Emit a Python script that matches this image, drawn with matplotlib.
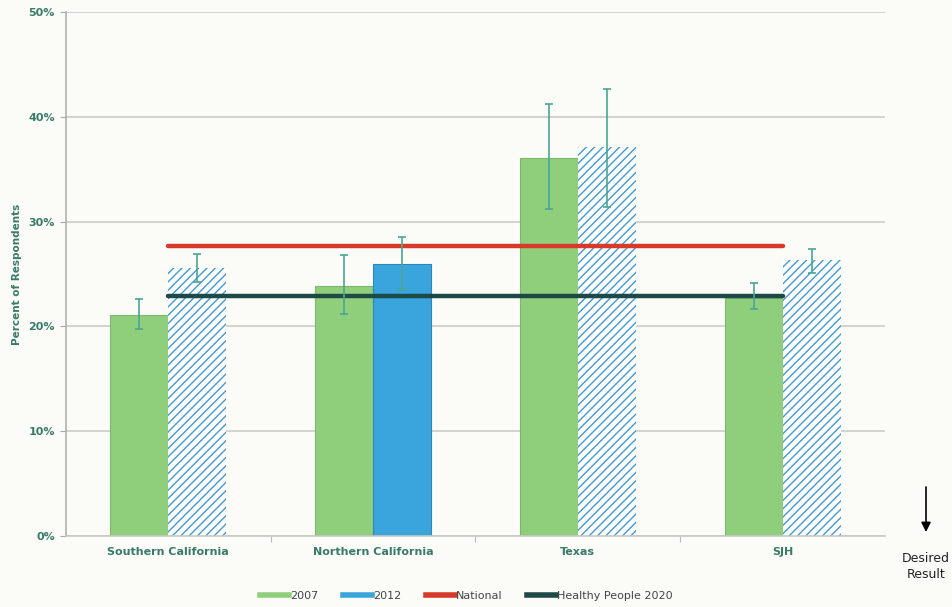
import numpy as np
import matplotlib.pyplot as plt
from matplotlib.lines import Line2D

regions = ["Southern California", "Northern California", "Texas", "SJH"]
y2007 = [21.1, 23.9, 36.1, 22.7]
y2007_lo = [19.8, 21.2, 31.2, 21.7]
y2007_hi = [22.6, 26.8, 41.2, 24.1]
y2012 = [25.6, 26.0, 37.1, 26.3]
y2012_lo = [24.2, 23.6, 31.4, 25.1]
y2012_hi = [26.9, 28.5, 42.7, 27.4]
hatched_2012 = [True, False, True, True]
national = 27.7
healthy_people = 22.9

bg = "#fbfbf8"
tick_col = "#3a7a68"
green = "#8fcf7c"
blue = "#3aa5dc"
hatch_blue = "#4598d0"
err_col = "#4aa595"

plt.rcParams['hatch.linewidth'] = 1.0
plt.rcParams['hatch.color'] = hatch_blue

fig = plt.figure(figsize=(9.52, 6.07), dpi=100, facecolor=bg)
ax = fig.add_axes([0.0693, 0.117, 0.8603, 0.863])
ax.set_facecolor(bg)

x = np.arange(len(regions)) + 0.5
w = 0.283

ax.bar(x - w / 2, y2007, w, color=green, edgecolor="#7db86c", linewidth=0.8, zorder=2)
for i in range(len(regions)):
    if hatched_2012[i]:
        ax.bar(x[i] + w / 2, y2012[i], w, color="white", edgecolor=hatch_blue,
               hatch="////", linewidth=0, zorder=2)
    else:
        ax.bar(x[i] + w / 2, y2012[i], w, color=blue, edgecolor="#2f86b8",
               linewidth=0.8, zorder=2)

e07 = [np.array(y2007) - np.array(y2007_lo), np.array(y2007_hi) - np.array(y2007)]
e12 = [np.array(y2012) - np.array(y2012_lo), np.array(y2012_hi) - np.array(y2012)]
ax.errorbar(x - w / 2, y2007, yerr=e07, fmt="none", ecolor=err_col, elinewidth=1.2,
            capsize=3, capthick=1.2, zorder=4)
ax.errorbar(x + w / 2, y2012, yerr=e12, fmt="none", ecolor=err_col, elinewidth=1.2,
            capsize=3, capthick=1.2, zorder=4)

ax.plot([x[0], x[-1]], [national, national], color="#d83a2a", linewidth=3.2,
        solid_capstyle="round", zorder=3)
ax.plot([x[0], x[-1]], [healthy_people, healthy_people], color="#1d4a47", linewidth=3.2,
        solid_capstyle="round", zorder=3)

ax.set_xlim(0, 4)
ax.set_ylim(0, 50)
ax.set_yticks(range(0, 51, 10))
ax.set_yticklabels([f"{v}%" for v in range(0, 51, 10)])
ax.yaxis.grid(True, color="#cbcbc7", linewidth=1.2, zorder=0)
ax.set_axisbelow(True)
ax.set_xticks([1, 2, 3])
ax.set_xticks(x, minor=True)
ax.set_xticklabels([])
ax.set_xticklabels(regions, minor=True)
ax.tick_params(axis="x", which="major", length=4, color="#bbbbbb")
ax.tick_params(axis="x", which="minor", length=0, pad=8)
ax.tick_params(axis="y", length=4, color="#aaaaaa", pad=4)
for lab in ax.get_xticklabels(minor=True) + ax.get_yticklabels():
    lab.set_fontsize(8)
    lab.set_fontweight("bold")
    lab.set_color(tick_col)
for s in ["top", "right"]:
    ax.spines[s].set_visible(False)
ax.spines["left"].set_color("#b0b0b0")
ax.spines["bottom"].set_color("#c8c8c4")
ax.spines["left"].set_linewidth(1.2)
ax.spines["bottom"].set_linewidth(1.2)

ax.set_ylabel("Percent of Respondents", fontsize=7.5, fontweight="bold", color=tick_col)
ax.yaxis.set_label_coords(-0.054, 0.5)

handles = [Line2D([], [], color=green, linewidth=4),
           Line2D([], [], color=blue, linewidth=4),
           Line2D([], [], color="#d83a2a", linewidth=4),
           Line2D([], [], color="#1d4a47", linewidth=4)]
fig.legend(handles, ["2007", "2012", "National", "Healthy People 2020"],
           loc="center", bbox_to_anchor=(0.49, 0.018), ncol=4, frameon=False,
           fontsize=8, handlelength=2.6, handletextpad=0.1, columnspacing=2.2,
           labelcolor="#444444")

ax.annotate("", xy=(0.9727, 1 - 532 / 607), xytext=(0.9727, 1 - 487 / 607),
            xycoords="figure fraction",
            arrowprops=dict(arrowstyle="-|>", color="black", lw=1.2, mutation_scale=14,
                            shrinkA=0, shrinkB=0))
fig.text(0.9727, 1 - 566 / 607, "Desired\nResult", ha="center", va="center", fontsize=9,
         color="#222222", linespacing=1.3)

fig.savefig("out.png", dpi=100, facecolor=bg)
